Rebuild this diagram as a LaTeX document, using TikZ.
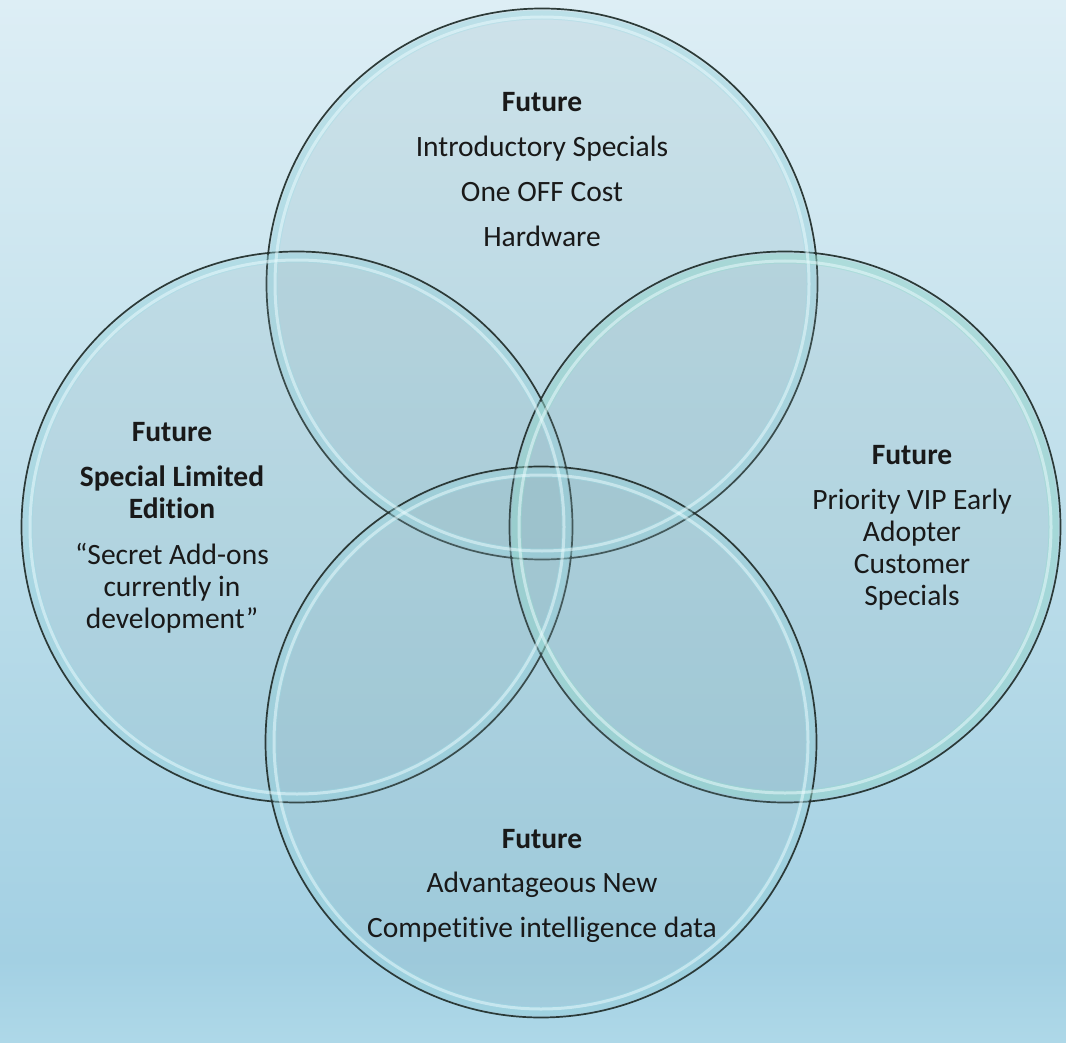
\documentclass[tikz,border=0pt]{standalone}
\usepackage{fontspec}
\setmainfont{Carlito}[Ligatures=NoCommon]
\definecolor{bgtop}{HTML}{DDEEF5}
\definecolor{bgmid}{HTML}{BDDEEA}
\definecolor{bgdark}{HTML}{A3D0E3}
\definecolor{bgbot}{HTML}{AED8E8}
\definecolor{bubfill}{HTML}{7FA8B2}
\definecolor{bubedge}{HTML}{24322F}
\definecolor{glow}{HTML}{EEFCFF}
\definecolor{cyanglow}{HTML}{9ADDE6}
\definecolor{tealglow}{HTML}{96DCCF}
\pgfdeclareverticalshading{bgshade}{100bp}{color(0bp)=(bgbot); color(25bp)=(bgbot); color(29bp)=(bgdark); color(50bp)=(bgmid); color(75bp)=(bgtop); color(100bp)=(bgtop)}
\begin{document}
\begin{tikzpicture}[x=1pt,y=-1pt]
\tikzset{
  bubble/.style={circle, minimum size=551pt, inner sep=0pt, fill=bubfill, fill opacity=0.16, draw=bubedge, draw opacity=0.95, line width=1.7pt},
  cring/.style={draw=cyanglow, line width=9pt, opacity=0.35},
  tring/.style={draw=tealglow, line width=10pt, opacity=0.45},
  ring/.style={draw=glow, line width=3pt, opacity=0.5},
  label/.style={align=center, font=\fontsize{29.5}{32}\selectfont, text=black!90}
}
\shade[shading=bgshade] (0,0) rectangle (1066,1043);
\useasboundingbox (0,0) rectangle (1066,1043);

\node[bubble] (ctop) at (542,284) {};
\node[bubble] (cleft) at (297,527) {};
\node[bubble] (cright) at (785,527) {};
\node[bubble] (cbot) at (541,742) {};

\draw[cring] (ctop.center) circle (269);
\draw[cring] (cleft.center) circle (269);
\draw[tring] (cright.center) circle (268.5);
\draw[cring] (cbot.center) circle (269);
\draw[ring] (ctop.center) circle (267);
\draw[ring] (cleft.center) circle (267);
\draw[ring] (cright.center) circle (266);
\draw[ring] (cbot.center) circle (267);

\node[label, anchor=base] (ttop) at (542,247) {\textbf{Future}\\[13pt]Introductory Specials\\[13pt]One OFF Cost\\[13pt]Hardware};
\node[label, anchor=base] (tleft) at (172,628) {\textbf{Future}\\[13pt]\textbf{Special Limited}\\\textbf{Edition}\\[14pt]“Secret Add-ons\\currently in\\development”};
\node[label, anchor=base] (tright) at (912,605) {\textbf{Future}\\[13pt]Priority VIP Early\\Adopter\\Customer\\Specials};
\node[label, anchor=base] (tbot) at (542,937) {\textbf{Future}\\[12pt]Advantageous New\\[13pt]Competitive intelligence data};
\end{tikzpicture}
\end{document}
